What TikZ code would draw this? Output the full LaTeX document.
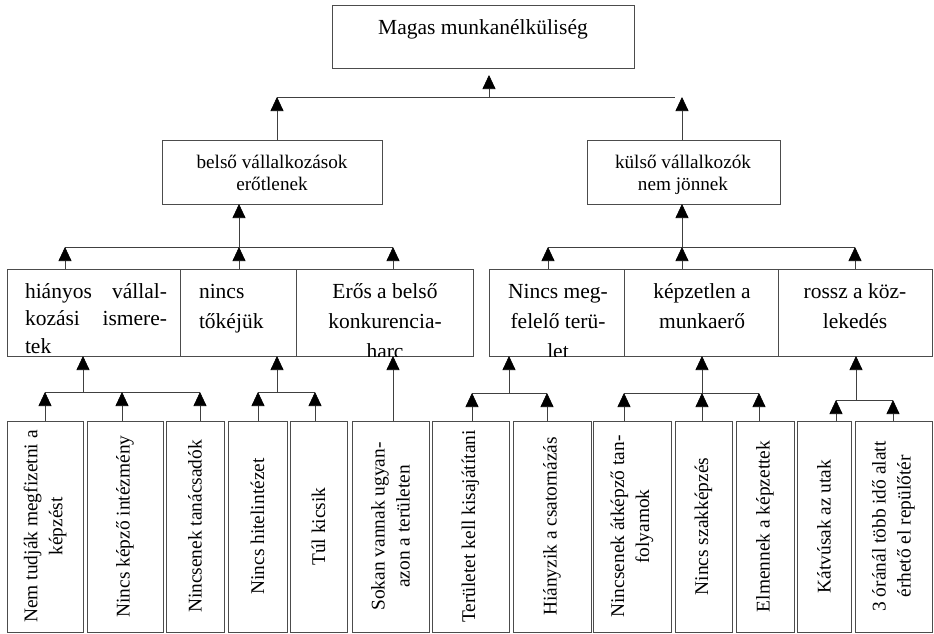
\documentclass[tikz,border=0pt]{standalone}
\usepackage{fontspec}
\setmainfont{Liberation Serif}
\usetikzlibrary{arrows.meta,fit}
\newcommand\fA{\fontsize{21.5}{30}\selectfont}
\newcommand\fAj{\fontsize{21.5}{27.5}\selectfont}
\newcommand\fB{\fontsize{19.2}{22.5}\selectfont}
\newcommand\fC{\fontsize{19.4}{25}\selectfont}
\newcommand\ctext[2]{\parbox[t]{#1}{\centering #2}}
\begin{document}
\begin{tikzpicture}[x=1pt,y=-1pt,
  box/.style={draw=black!70, line width=0.7pt, inner sep=0pt, outer sep=0pt, rectangle},
  ln/.style={draw=black!75, line width=0.7pt},
  arr/.style={ln, -{Triangle[width=13pt,length=14pt,color=black]}},
  txt/.style={inner sep=0pt, outer sep=0pt, anchor=base},
  vt/.style={inner sep=0pt, outer sep=0pt, rotate=90, align=center, font=\fC}]
\useasboundingbox (0,0) rectangle (934,634);

% ---------- top ----------
\node[box, fit={(332,5)(634,68)}] (mag) {};
\node[txt, font=\fA] (magt) at (483,35) {Magas munkanélküliség};

\node[box, fit={(162,140)(382,204)}] (belso) {};
\node[txt] (belsot) at (272,168) {\ctext{210pt}{\fB belső vállalkozások\\erőtlenek}};
\node[box, fit={(587,140)(780,204)}] (kulso) {};
\node[txt] (kulsot) at (683,168) {\ctext{190pt}{\fB külső vállalkozók\\nem jönnek}};

% ---------- middle row ----------
\node[box, fit={(7,269)(180,356)}] (h) {};
\node[box, fit={(180,269)(296,356)}] (n) {};
\node[box, fit={(296,269)(473,356)}] (e) {};
\node[box, fit={(489,269)(624,356)}] (m) {};
\node[box, fit={(624,269)(778,356)}] (k) {};
\node[box, fit={(778,269)(932,356)}] (r) {};

\begin{scope}
  \clip (h.north west) rectangle (h.south east);
  \node[txt, anchor=base west] (ht) at (25,298) {\parbox[t]{142pt}{\fAj hiányos vállal-\linebreak kozási ismere-\linebreak tek}};
\end{scope}
\begin{scope}
  \clip (n.north west) rectangle (n.south east);
  \node[txt, anchor=base west] (nt) at (199,298) {\parbox[t]{95pt}{\raggedright\fA nincs\\tőkéjük}};
\end{scope}
\begin{scope}
  \clip (e.north west) rectangle (e.south east);
  \node[txt] (et) at (385,298) {\ctext{170pt}{\fA Erős a belső\\konkurencia-\\harc}};
\end{scope}
\begin{scope}
  \clip (m.north west) rectangle (m.south east);
  \node[txt] (mt) at (558,298) {\ctext{170pt}{\fA Nincs meg-\\felelő terü-\\let}};
\end{scope}
\begin{scope}
  \clip (k.north west) rectangle (k.south east);
  \node[txt] (kt) at (702,298) {\ctext{170pt}{\fA képzetlen a\\munkaerő}};
\end{scope}
\begin{scope}
  \clip (r.north west) rectangle (r.south east);
  \node[txt] (rt) at (855,298) {\ctext{170pt}{\fA rossz a köz-\\lekedés}};
\end{scope}

% ---------- bottom row ----------
\node[box, fit={(7,421)(83,632)}] (b1) {};
\node[box, fit={(87,421)(163,632)}] (b2) {};
\node[box, fit={(166,421)(224,632)}] (b3) {};
\node[box, fit={(228,421)(287,632)}] (b4) {};
\node[box, fit={(290,421)(347,632)}] (b5) {};
\node[box, fit={(352,421)(429,632)}] (b6) {};
\node[box, fit={(432,421)(509,632)}] (b7) {};
\node[box, fit={(513,421)(591,632)}] (b8) {};
\node[box, fit={(593,421)(671,632)}] (b9) {};
\node[box, fit={(675,421)(732,632)}] (b10) {};
\node[box, fit={(736,421)(794,632)}] (b11) {};
\node[box, fit={(797,421)(851,632)}] (b12) {};
\node[box, fit={(855,421)(932,632)}] (b13) {};

\node[vt] (b1t) at (b1.center) {Nem tudják megfizetni a\\képzést};
\node[vt] (b2t) at (b2.center) {Nincs képző intézmény};
\node[vt] (b3t) at (b3.center) {Nincsenek tanácsadók};
\node[vt] (b4t) at (b4.center) {Nincs hitelintézet};
\node[vt] (b5t) at (b5.center) {Túl kicsik};
\node[vt] (b6t) at (b6.center) {Sokan vannak ugyan-\\azon a területen};
\node[vt] (b7t) at (b7.center) {Területet kell kisajátítani};
\node[vt] (b8t) at (b8.center) {Hiányzik a csatornázás};
\node[vt] (b9t) at (b9.center) {Nincsenek átképző tan-\\folyamok};
\node[vt] (b10t) at (b10.center) {Nincs szakképzés};
\node[vt] (b11t) at (b11.center) {Elmennek a képzettek};
\node[vt] (b12t) at (b12.center) {Kátvúsak az utak};
\node[vt] (b13t) at (b13.center) {3 óránál több idő alatt\\érhető el repülőtér};

% ---------- connectors: top level ----------
\coordinate (t0) at (489,97);
\coordinate (tL) at (277,97);
\coordinate (tR) at (675,97);
\coordinate (tK) at (682,97);
\draw[arr, shorten >=7pt] (t0) -- (t0 |- mag.south);
\draw[ln] (tL) -- (tR);
\draw[arr] (tL |- belso.north) -- (tL);
\draw[arr] (tK |- kulso.north) -- (tK);

% ---------- connectors: second level ----------
\coordinate (mL0) at (239,247);
\coordinate (mL1) at (65,247);
\coordinate (mL3) at (393,247);
\draw[arr] (mL0) -- (mL0 |- belso.south);
\draw[ln] (mL1) -- (mL3);
\draw[arr] (mL1 |- h.north) -- (mL1);
\draw[arr] (mL0 |- n.north) -- (mL0);
\draw[arr] (mL3 |- e.north) -- (mL3);

\coordinate (mR0) at (682,247);
\coordinate (mR1) at (548,247);
\coordinate (mR3) at (855,247);
\draw[arr] (mR0) -- (mR0 |- kulso.south);
\draw[ln] (mR1) -- (mR3);
\draw[arr] (mR1 |- m.north) -- (mR1);
\draw[arr] (mR0 |- k.north) -- (mR0);
\draw[arr] (mR3 |- r.north) -- (mR3);

% ---------- connectors: third level ----------
\coordinate (hb) at (83,392);
\coordinate (hb1) at (45,392);
\coordinate (hb2) at (122,392);
\coordinate (hb3) at (200,392);
\draw[arr] (hb) -- (hb |- h.south);
\draw[ln] (hb1) -- (hb3);
\draw[arr] (hb1 |- b1.north) -- (hb1);
\draw[arr] (hb2 |- b2.north) -- (hb2);
\draw[arr] (hb3 |- b3.north) -- (hb3);

\coordinate (nb) at (277,392);
\coordinate (nb1) at (258,392);
\coordinate (nb2) at (315,392);
\draw[arr] (nb) -- (nb |- n.south);
\draw[ln] (nb1) -- (nb2);
\draw[arr] (nb1 |- b4.north) -- (nb1);
\draw[arr] (nb2 |- b5.north) -- (nb2);

\coordinate (eb) at (393,392);
\draw[arr] (eb |- b6.north) -- (eb |- e.south);

\coordinate (mb) at (509,393);
\coordinate (mb1) at (472,393);
\coordinate (mb2) at (547,393);
\draw[arr] (mb) -- (mb |- m.south);
\draw[ln] (mb1) -- (mb2);
\draw[arr] (mb1 |- b7.north) -- (mb1);
\draw[arr] (mb2 |- b8.north) -- (mb2);

\coordinate (kb) at (702,393);
\coordinate (kb1) at (624,393);
\coordinate (kb3) at (759,393);
\draw[arr] (kb) -- (kb |- k.south);
\draw[ln] (kb1) -- (kb3);
\draw[arr] (kb1 |- b9.north) -- (kb1);
\draw[arr] (kb |- b10.north) -- (kb);
\draw[arr] (kb3 |- b11.north) -- (kb3);

\coordinate (rb) at (856,400);
\coordinate (rb1) at (836,400);
\coordinate (rb2) at (893,400);
\draw[arr] (rb) -- (rb |- r.south);
\draw[ln] (rb1) -- (rb2);
\draw[arr] (rb1 |- b12.north) -- (rb1);
\draw[arr] (rb2 |- b13.north) -- (rb2);
\end{tikzpicture}
\end{document}
